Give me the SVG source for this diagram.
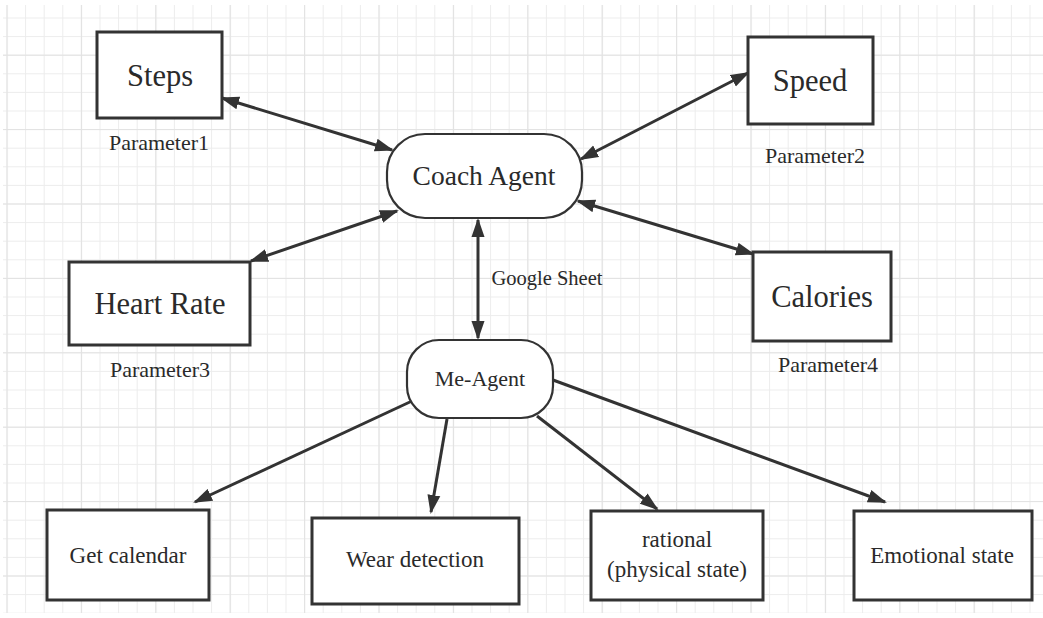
<svg xmlns="http://www.w3.org/2000/svg" width="1043" height="618" viewBox="0 0 1043 618">
<style>
.box{fill:#fff;stroke:#333;stroke-width:3}
.rnd{fill:#fff;stroke:#333;stroke-width:2.2}
.lbl{font-family:"Liberation Serif","Times New Roman",serif;fill:#2a2a2a;text-anchor:middle}
.big{font-size:30.5px}
.mid{font-size:23px}
.par{font-size:22px}
.edge{stroke:#333;stroke-width:3;fill:none}
.bi{marker-start:url(#ah);marker-end:url(#ah)}
.uni{marker-end:url(#ah)}
</style>
<defs>
<marker id="ah" markerUnits="userSpaceOnUse" markerWidth="20" markerHeight="14" refX="17" refY="7" orient="auto-start-reverse" viewBox="0 0 20 14">
<path d="M0,0.5 L19,7 L0,13.5 z" fill="#333"/>
</marker>
<pattern id="minor" patternUnits="userSpaceOnUse" x="6.5" y="17.5" width="18.6" height="18.6">
<path d="M0.5,0 V18.6 M0,0.5 H18.6" stroke="#ececec" stroke-width="1" fill="none"/>
</pattern>
<pattern id="major" patternUnits="userSpaceOnUse" x="6.5" y="54.7" width="74.4" height="74.4">
<path d="M0.5,0 V74.4 M0,0.5 H74.4" stroke="#e2e2e2" stroke-width="1.2" fill="none"/>
</pattern>
</defs>
<rect width="1043" height="618" fill="#fff"/>
<g id="grid">
<rect x="3" y="5" width="1040" height="608" fill="url(#minor)"/>
<rect x="3" y="5" width="1040" height="608" fill="url(#major)"/>
</g>
<g id="connectors">
<line class="edge bi" x1="222" y1="98" x2="392" y2="150"/>
<line class="edge bi" x1="748" y1="73" x2="581" y2="159"/>
<line class="edge bi" x1="251" y1="261" x2="397" y2="211"/>
<line class="edge bi" x1="753" y1="254" x2="578" y2="201"/>
<line class="edge bi" x1="478" y1="220" x2="478" y2="338"/>
<line class="edge uni" x1="412" y1="401" x2="195" y2="502"/>
<line class="edge uni" x1="447" y1="419" x2="431" y2="512"/>
<line class="edge uni" x1="537" y1="416" x2="657" y2="509"/>
<line class="edge uni" x1="553" y1="380" x2="885" y2="502"/>
<text class="lbl" x="547" y="285" style="font-size:20.5px">Google Sheet</text>
</g>
<g id="steps">
<rect class="box" x="97" y="32" width="125" height="86"/>
<text class="lbl big" x="160" y="86">Steps</text>
<text class="lbl par" x="159" y="150">Parameter1</text>
</g>
<g id="speed">
<rect class="box" x="748" y="37" width="125" height="87"/>
<text class="lbl big" x="810" y="91">Speed</text>
<text class="lbl par" x="815" y="163">Parameter2</text>
</g>
<g id="coach-agent">
<rect class="rnd" x="387" y="134" width="195" height="84" rx="38" ry="38"/>
<text class="lbl" x="484" y="185" style="font-size:27.5px">Coach Agent</text>
</g>
<g id="heart-rate">
<rect class="box" x="69" y="262" width="181" height="83"/>
<text class="lbl big" x="160" y="314">Heart Rate</text>
<text class="lbl par" x="160" y="377">Parameter3</text>
</g>
<g id="calories">
<rect class="box" x="753" y="252" width="138" height="89"/>
<text class="lbl big" x="822" y="307">Calories</text>
<text class="lbl par" x="828" y="372">Parameter4</text>
</g>
<g id="me-agent">
<rect class="rnd" x="407" y="340" width="146" height="78" rx="32" ry="32"/>
<text class="lbl" x="480" y="386" style="font-size:22px">Me-Agent</text>
</g>
<g id="get-calendar">
<rect class="box" x="47" y="510" width="162" height="90"/>
<text class="lbl mid" x="128" y="563">Get calendar</text>
</g>
<g id="wear-detection">
<rect class="box" x="312" y="518" width="207" height="86"/>
<text class="lbl mid" x="415" y="567">Wear detection</text>
</g>
<g id="rational">
<rect class="box" x="591" y="511" width="172" height="89"/>
<text class="lbl mid" x="677" y="547">rational</text>
<text class="lbl mid" x="677" y="577">(physical state)</text>
</g>
<g id="emotional-state">
<rect class="box" x="854" y="511" width="178" height="89"/>
<text class="lbl mid" x="942" y="563">Emotional state</text>
</g>
</svg>
